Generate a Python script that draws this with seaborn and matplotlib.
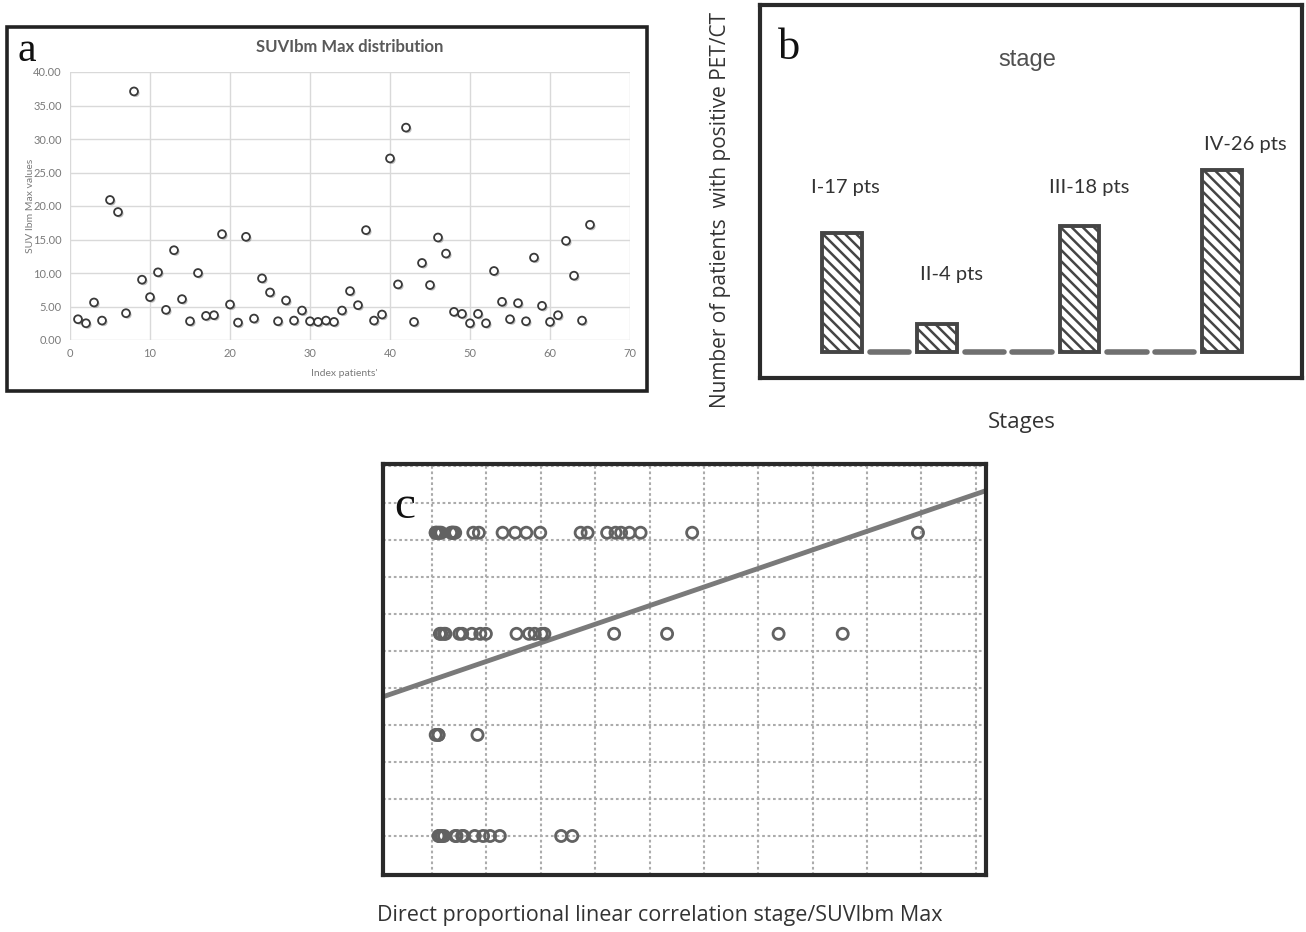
import numpy as np
import pandas as pd
import matplotlib
matplotlib.use("Agg")
import matplotlib.pyplot as plt
import matplotlib.patheffects as pe
from matplotlib.patches import Rectangle
import seaborn as sns

# panel a: SUVIbm Max per patient (index 1..65)
suv_max = [3.1, 2.5, 5.6, 2.9, 20.9, 19.1, 4.0, 37.1, 9.0, 6.4,
           10.1, 4.5, 13.4, 6.1, 2.8, 10.0, 3.6, 3.7, 15.8, 5.3,
           2.6, 15.4, 3.2, 9.2, 7.1, 2.8, 5.9, 2.9, 4.4, 2.8,
           2.7, 2.9, 2.7, 4.4, 7.3, 5.2, 16.4, 2.9, 3.8, 27.1,
           8.3, 31.7, 2.7, 11.5, 8.2, 15.3, 12.9, 4.2, 3.9, 2.5,
           3.9, 2.5, 10.3, 5.7, 3.1, 5.5, 2.8, 12.3, 5.1, 2.7,
           3.7, 14.8, 9.6, 2.9, 17.2]
# stage of each patient (1=I .. 4=IV), used in panel c
stage = [3, 4, 4, 4, 4, 3, 1, 4, 4, 1,
         3, 1, 4, 3, 4, 4, 4, 4, 4, 1,
         4, 4, 3, 3, 1, 3, 1, 3, 3, 1,
         4, 1, 2, 1, 4, 4, 4, 1, 4, 3,
         3, 3, 2, 1, 4, 3, 4, 3, 4, 4,
         1, 2, 3, 3, 1, 2, 1, 1, 3, 1,
         4, 4, 3, 1, 4]
patient_idx = list(range(1, len(suv_max) + 1))

# panel b: patients per stage (empty slots between the stages)
slot_counts = [17, 0, 4, 0, 0, 18, 0, 0, 26]
bar_labels = ["I-17 pts", "II-4 pts", "III-18 pts", "IV-26 pts"]

df = pd.DataFrame({"idx": patient_idx, "suv": suv_max, "stage": stage})

sns.set_theme(style="white")
plt.rcParams["font.family"] = ["Lato", "DejaVu Sans"]
plt.rcParams["hatch.linewidth"] = 1.8

W, H = 1306, 932
fig = plt.figure(figsize=(W / 100, H / 100), dpi=100)

def fx(px):
    return px / W

def fy(py):
    return 1 - py / H

#******************************************************************
#                     a - SUVIbm Max distribution
#******************************************************************
fig.patches.append(Rectangle((fx(7), fy(391)), fx(640), 364 / H, transform=fig.transFigure,
                             fill=False, lw=2.6, edgecolor="#222222"))
axa = fig.add_axes([fx(70), fy(340), fx(560), 268 / H])
sns.scatterplot(data=df, x="idx", y="suv", ax=axa, s=32, color="white",
                edgecolor="#3a3a3a", linewidth=1.3, zorder=3)
axa.collections[0].set_path_effects([pe.SimplePatchShadow(offset=(1.2, -1.2), alpha=0.35),
                                     pe.Normal()])
axa.set_xlim(0, 70)
axa.set_ylim(0, 40)
axa.set_xticks(np.arange(0, 71, 10))
axa.set_yticks(np.arange(0, 41, 5))
axa.set_yticklabels(["%.2f" % v for v in np.arange(0, 41, 5)])
axa.grid(True, color="#d9d9d9", lw=1)
for s in axa.spines.values():
    s.set_visible(False)
axa.tick_params(length=0, labelsize=8, labelcolor="#7a7a7a", pad=6)
axa.set_xlabel("Index patients'", fontsize=7.5, color="#7a7a7a")
axa.set_ylabel("SUV Ibm Max values", fontsize=7.5, color="#7a7a7a")
axa.xaxis.set_label_coords(0.49, -0.11)
axa.yaxis.set_label_coords(-0.062, 0.5)
axa.set_title("SUVIbm Max distribution", fontsize=12, fontweight="bold",
              color="#595959", y=1.045)
fig.text(fx(27), fy(51), "a", fontsize=30, family="Liberation Serif",
         ha="center", va="center", color="#111111")

#******************************************************************
#                     b - stages bar chart
#******************************************************************
axb = fig.add_axes([fx(760), fy(378), fx(542), 373 / H])
slots = np.arange(len(slot_counts))
sns.barplot(x=slots, y=slot_counts, ax=axb, native_scale=True, width=0.83,
            color="white", edgecolor="#454545", linewidth=2.8, errorbar=None)
for p in axb.patches:
    if p.get_height() == 0:
        p.set_linewidth(4)
        p.set_edgecolor("#707070")
        p.set_capstyle("round")
    else:
        p.set_hatch("\\\\\\")
axb.set_xlim(-1.73, 9.68)
axb.set_ylim(-3.7, 49.6)
axb.set_xticks([])
axb.set_yticks([])
for s in axb.spines.values():
    s.set_linewidth(3)
    s.set_edgecolor("#2a2a2a")
label_offsets = [46, 50, 39, 26]
label_dx = [0.06, 0.3, 0.2, 0.48]
nz = [i for i, c in enumerate(slot_counts) if c > 0]
for k, i in enumerate(nz):
    axb.annotate(bar_labels[k], (slots[i] + label_dx[k], slot_counts[i]),
                 xytext=(0, label_offsets[k] * 0.72), textcoords="offset points",
                 ha="center", va="center", fontsize=14.5, color="#333333")
axb.text(0.493, 0.853, "stage", transform=axb.transAxes, ha="center", va="center",
         fontsize=17, color="#505050", family="Liberation Sans")
axb.text(0.054, 0.885, "b", transform=axb.transAxes, ha="center", va="center",
         fontsize=32, family="Liberation Serif", color="#111111")
axb.set_ylabel("Number of patients  with positive PET/CT", fontsize=15,
               family="Open Sans", color="#333333")
axb.yaxis.set_label_coords(-0.054, 0.45)
axb.set_xlabel("Stages", fontsize=16, family="Open Sans", color="#333333")
axb.xaxis.set_label_coords(0.483, -0.092)

#******************************************************************
#                     c - correlation stage / SUVlbm Max
#******************************************************************
axc = fig.add_axes([fx(383), fy(875), fx(603), 411 / H])
axc.set_xlim(-1.28, 41.98)
axc.set_ylim(0.614, 4.68)
sns.regplot(data=df, x="suv", y="stage", ax=axc, ci=None, truncate=False,
            scatter=False, line_kws=dict(color="#7a7a7a", lw=3.5, zorder=2))
sns.scatterplot(data=df, x="suv", y="stage", ax=axc, s=64, color="none",
                edgecolor="#626262", linewidth=2, zorder=3)
axc.set_xlim(-1.28, 41.98)
axc.set_ylim(0.614, 4.68)
axc.set_xticks(np.arange(2.24, 42, 3.9))
axc.set_yticks(np.arange(1, 4.7, 0.366))
axc.tick_params(length=0, labelbottom=False, labelleft=False)
axc.grid(True, color="#ababab", linestyle=(0, (1.3, 1.3)), lw=1.5)
axc.set_xlabel("")
axc.set_ylabel("")
for s in axc.spines.values():
    s.set_linewidth(3)
    s.set_edgecolor("#2a2a2a")
axc.text(0.036, 0.895, "c", transform=axc.transAxes, ha="center", va="center",
         fontsize=34, family="Liberation Serif", color="#111111")
fig.text(fx(660), fy(916), "Direct proportional linear correlation stage/SUVlbm Max",
         ha="center", va="center", fontsize=15.5, family="Open Sans", color="#333333")

fig.savefig("out.png", dpi=100)
